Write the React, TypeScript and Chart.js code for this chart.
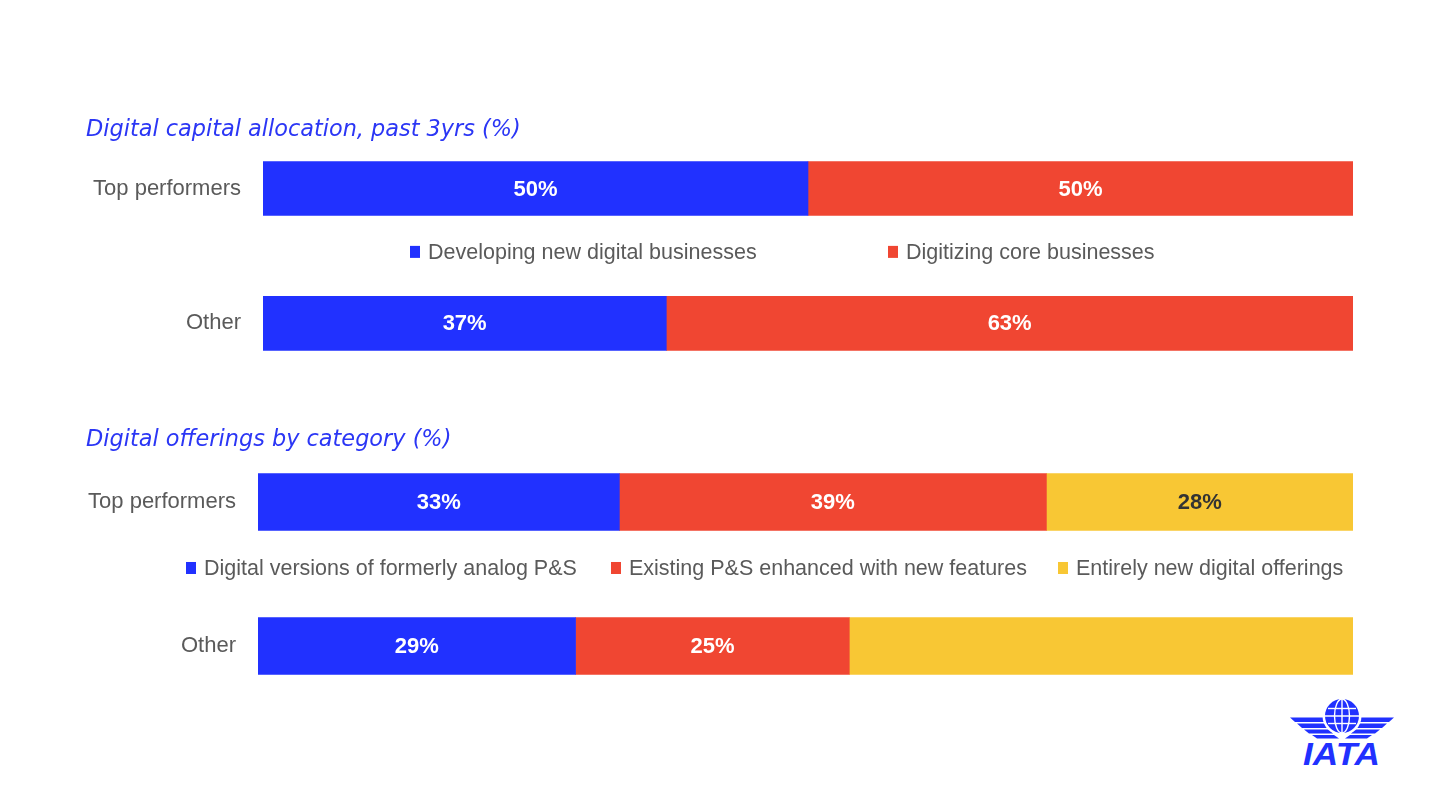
import React, { useEffect, useRef } from "react";
import { Chart, registerables } from "chart.js";

Chart.register(...registerables);

const FONT = '"Liberation Sans", Arial, sans-serif';
const TITLE_FONT = '"DejaVu Sans", "Liberation Sans", sans-serif';
const BLUE = "#2131FF";
const RED = "#F04632";
const YELLOW = "#F8C734";
const GRAY = "#5a5a5a";
const TITLE_BLUE = "#2B36F5";

// Chart 1 data
const categories = ["Top performers", "", "Other"];
const capitalTitle = "Digital capital allocation, past 3yrs (%)";
const capitalSeries = ["Developing new digital businesses", "Digitizing core businesses"];
const capitalNewDigital = [50, null, 37];
const capitalCore = [50, null, 63];

// Chart 2 data
const offeringsTitle = "Digital offerings by category (%)";
const offeringsSeries = [
  "Digital versions of formerly analog P&S",
  "Existing P&S enhanced with new features",
  "Entirely new digital offerings",
];
const offeringsAnalog = [33, null, 29];
const offeringsEnhanced = [39, null, 25];
const offeringsNew = [28, null, 46];
const offeringsNewLabelShown = [true, false, false];

const valueLabelsPlugin = {
  id: "valueLabels",
  afterDatasetsDraw(chart: any) {
    const ctx = chart.ctx;
    ctx.save();
    ctx.font = `bold 22px ${FONT}`;
    ctx.textAlign = "center";
    ctx.textBaseline = "middle";
    chart.data.datasets.forEach((ds: any, di: number) => {
      const meta = chart.getDatasetMeta(di);
      meta.data.forEach((el: any, i: number) => {
        const v = ds.data[i];
        if (v == null) return;
        if (ds.labelShown && !ds.labelShown[i]) return;
        const x = (el.x + el.base) / 2;
        ctx.fillStyle = ds.labelColor || "#fff";
        ctx.fillText(`${v}%`, x, el.y + 1);
      });
    });
    ctx.restore();
  },
};

const midLegendPlugin = {
  id: "midLegend",
  afterDraw(chart: any, _args: any, opts: any) {
    if (!opts || !opts.items) return;
    const ctx = chart.ctx;
    const y = chart.scales.y.getPixelForValue(1) + (opts.dy || 0);
    ctx.save();
    ctx.font = `21.5px ${FONT}`;
    ctx.textBaseline = "middle";
    ctx.textAlign = "left";
    opts.items.forEach((it: any, i: number) => {
      const x = opts.xs[i];
      ctx.fillStyle = it.color;
      ctx.fillRect(x, y - 6, 10, 12);
      ctx.fillStyle = GRAY;
      ctx.fillText(it.text, x + 18, y + 1);
    });
    ctx.restore();
  },
};

function makeConfig(
  title: string,
  datasets: any[],
  yWidth: number,
  barThickness: number,
  titlePad: { top: number; bottom: number },
  legend: any
): any {
  return {
    type: "bar",
    data: {
      labels: categories,
      datasets: datasets.map((d) => ({
        ...d,
        barThickness,
        borderWidth: 0,
      })),
    },
    options: {
      indexAxis: "y",
      animation: false,
      responsive: false,
      maintainAspectRatio: false,
      layout: { padding: { left: 86, right: 87, top: 0, bottom: 0 } },
      scales: {
        x: { stacked: true, min: 0, max: 100, display: false },
        y: {
          stacked: true,
          grid: { display: false, drawTicks: false },
          border: { display: false },
          ticks: { color: GRAY, font: { size: 22, family: FONT }, padding: 22 },
          afterFit: (s: any) => {
            s.width = yWidth;
            s.paddingTop = 0;
            s.paddingBottom = 0;
          },
        },
      },
      plugins: {
        legend: { display: false },
        tooltip: { enabled: false },
        title: {
          display: true,
          text: title,
          align: "start",
          color: TITLE_BLUE,
          font: { size: 22.4, style: "italic", family: TITLE_FONT, weight: "normal" },
          padding: titlePad,
        },
        midLegend: legend,
      },
    },
    plugins: [valueLabelsPlugin, midLegendPlugin],
  };
}

function ChartCanvas({ config, top, height }: { config: any; top: number; height: number }) {
  const ref = useRef<HTMLCanvasElement | null>(null);
  useEffect(() => {
    if (!ref.current) return;
    const c = new Chart(ref.current, config);
    return () => c.destroy();
  }, [config]);
  return (
    <canvas
      ref={ref}
      width={1440}
      height={height}
      style={{ position: "absolute", left: 0, top, width: 1440, height }}
    />
  );
}

function Logo() {
  return (
    <svg
      width={112}
      height={76}
      viewBox="0 0 112 76"
      style={{ position: "absolute", left: 1286, top: 694 }}
    >
      <g fill={BLUE}>
        {/* left wing */}
        <polygon points="4,23.5 40,23.5 41,28 9,28" />
        <polygon points="11,29.5 41,29.5 43,34 16,34" />
        <polygon points="18,35.5 44,35.5 47,39.5 23,39.5" />
        <polygon points="26,41 48,41 53,44.5 31,44.5" />
        {/* right wing */}
        <polygon points="108,23.5 72,23.5 71,28 103,28" />
        <polygon points="101,29.5 71,29.5 69,34 96,34" />
        <polygon points="94,35.5 68,35.5 65,39.5 89,39.5" />
        <polygon points="86,41 64,41 59,44.5 81,44.5" />
      </g>
      <circle cx={56} cy={22} r={19.5} fill="#fff" />
      <circle cx={56} cy={22} r={17} fill={BLUE} />
      <g stroke="#fff" strokeWidth={1.4} fill="none">
        <ellipse cx={56} cy={22} rx={7.5} ry={17} />
        <line x1={56} y1={5} x2={56} y2={39} />
        <line x1={42} y1={14.5} x2={70} y2={14.5} />
        <line x1={39} y1={22} x2={73} y2={22} />
        <line x1={42} y1={29.5} x2={70} y2={29.5} />
      </g>
      <text
        x={17}
        y={71}
        textLength={77}
        lengthAdjust="spacingAndGlyphs"
        fill={BLUE}
        style={{ font: `italic bold 31px ${FONT}` }}
      >
        IATA
      </text>
    </svg>
  );
}

const config1 = makeConfig(
  capitalTitle,
  [
    { label: capitalSeries[0], data: capitalNewDigital, backgroundColor: BLUE },
    { label: capitalSeries[1], data: capitalCore, backgroundColor: RED },
  ],
  177,
  54,
  { top: 16.5, bottom: 11.4 },
  {
    dy: -4,
    xs: [410, 888],
    items: [
      { text: capitalSeries[0], color: BLUE },
      { text: capitalSeries[1], color: RED },
    ],
  }
);

const config2 = makeConfig(
  offeringsTitle,
  [
    { label: offeringsSeries[0], data: offeringsAnalog, backgroundColor: BLUE },
    { label: offeringsSeries[1], data: offeringsEnhanced, backgroundColor: RED },
    {
      label: offeringsSeries[2],
      data: offeringsNew,
      backgroundColor: YELLOW,
      labelColor: "#333",
      labelShown: offeringsNewLabelShown,
    },
  ],
  172,
  57,
  { top: 26.5, bottom: 12.6 },
  {
    dy: -6,
    xs: [186, 611, 1058],
    items: [
      { text: offeringsSeries[0], color: BLUE },
      { text: offeringsSeries[1], color: RED },
      { text: offeringsSeries[2], color: YELLOW },
    ],
  }
);

export default function App() {
  return (
    <div style={{ position: "fixed", left: 0, top: 0, width: 1440, height: 810, background: "#fff" }}>
      <ChartCanvas config={config1} top={100} height={257} />
      <ChartCanvas config={config2} top={400} height={282} />
      <Logo />
    </div>
  );
}
